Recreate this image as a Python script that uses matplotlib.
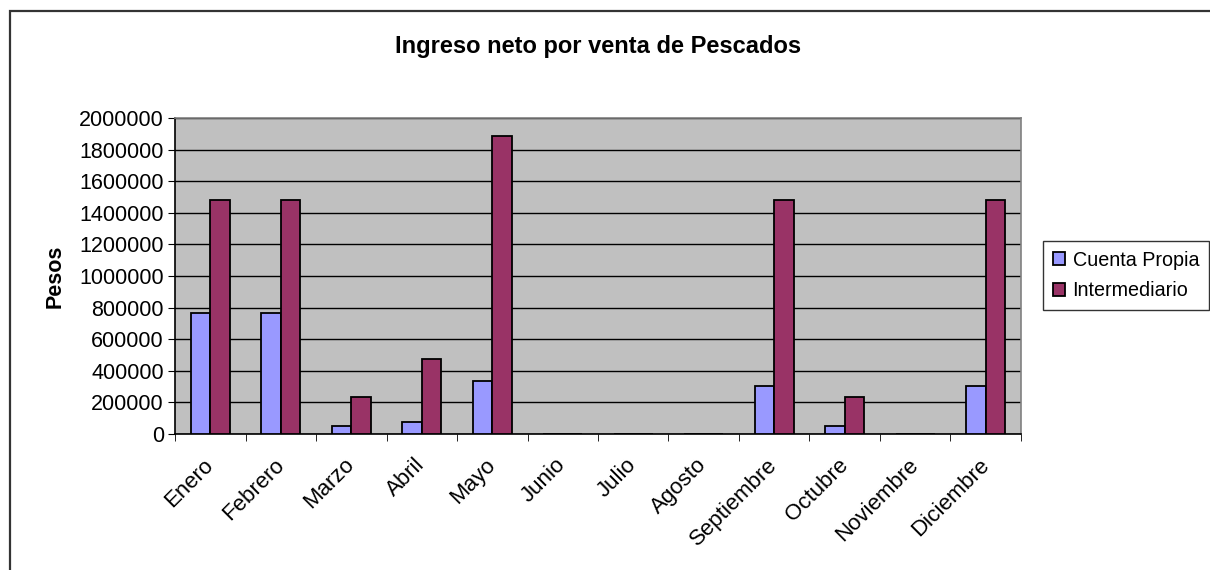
import matplotlib
matplotlib.use("Agg")
import matplotlib.pyplot as plt
import numpy as np
from matplotlib.patches import Rectangle

plt.rcParams['font.family'] = ['Liberation Sans', 'DejaVu Sans']

# Data
meses = ['Enero', 'Febrero', 'Marzo', 'Abril', 'Mayo', 'Junio', 'Julio',
         'Agosto', 'Septiembre', 'Octubre', 'Noviembre', 'Diciembre']
cuenta_propia = [765000, 765000, 50000, 74000, 338000, 0, 0, 0, 302000, 50000, 0, 302000]
intermediario = [1483000, 1483000, 237000, 477000, 1888000, 0, 0, 0, 1483000, 237000, 0, 1483000]
y_ticks = list(range(0, 2000001, 200000))

W, H = 1210, 570
fig = plt.figure(figsize=(W / 100, H / 100), dpi=100)
fig.patch.set_facecolor('white')

# outer chart frame (top and left edges visible)
fig.add_artist(Rectangle((10 / W, -0.1), 1.2, 1.1 - 11.5 / H,
                         transform=fig.transFigure, fill=False,
                         edgecolor='#333333', linewidth=1.6))

ax = fig.add_axes([175 / W, (H - 434) / H, 846 / W, 316 / H])
ax.set_facecolor('#C0C0C0')

x = np.arange(len(meses))
bw = 0.277
ax.bar(x - bw / 2, cuenta_propia, bw, color='#9999FF', edgecolor='black',
       linewidth=1.3, label='Cuenta Propia', zorder=3)
ax.bar(x + bw / 2, intermediario, bw, color='#993366', edgecolor='black',
       linewidth=1.3, label='Intermediario', zorder=3)

ax.set_xlim(-0.5, len(meses) - 0.5)
ax.set_ylim(0, 2000000)
ax.set_yticks(y_ticks)
ax.set_yticklabels([str(v) for v in y_ticks], fontsize=15.5)
ax.yaxis.grid(True, color='black', linewidth=1, zorder=1)
ax.set_axisbelow(True)

ax.set_xticks(x)
ax.set_xticklabels(meses, fontsize=16, rotation=45, ha='right', va='center',
                   rotation_mode='anchor')
ax.set_xticks(np.arange(-0.5, len(meses)), minor=True)
ax.tick_params(axis='x', which='major', length=0, pad=20)
ax.tick_params(axis='x', which='minor', length=5, direction='out', color='black')
ax.tick_params(axis='y', length=5, direction='out', color='black', pad=3)

for s in ['top', 'right']:
    ax.spines[s].set_color('#808080')
    ax.spines[s].set_linewidth(1.2)
for s in ['left', 'bottom']:
    ax.spines[s].set_color('black')
    ax.spines[s].set_linewidth(1.2)

ax.set_ylabel('Pesos', fontsize=15.5, fontweight='bold', labelpad=10)
fig.text(598 / W, 1 - 47 / H, 'Ingreso neto por venta de Pescados',
         fontsize=17, fontweight='bold', ha='center', va='center')

leg = fig.legend(loc='center left', bbox_to_anchor=(1043 / W, 1 - 275.5 / H),
                 fontsize=14.2, frameon=True, fancybox=False, borderaxespad=0,
                 handlelength=0.6, handleheight=0.6, handletextpad=0.4,
                 labelspacing=0.6, borderpad=0.5)
leg.get_frame().set_edgecolor('black')
leg.get_frame().set_linewidth(1)

fig.savefig('out.png', dpi=100)
